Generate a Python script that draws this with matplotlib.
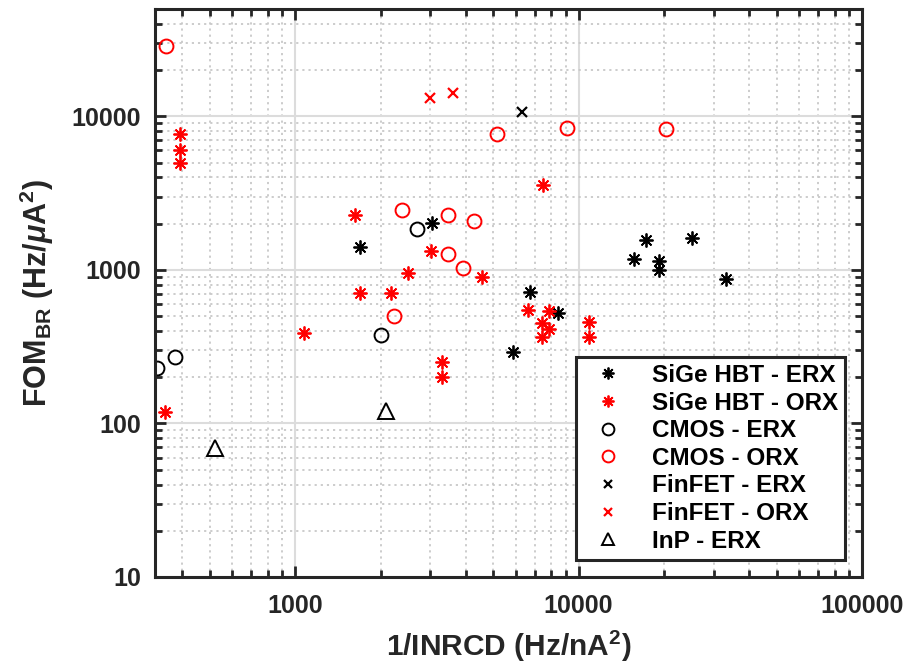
import numpy as np
import matplotlib
matplotlib.use("Agg")
import matplotlib.pyplot as plt

plt.rcParams['font.family'] = ['Liberation Sans', 'DejaVu Sans']
plt.rcParams['font.weight'] = 'bold'
plt.rcParams['mathtext.fontset'] = 'custom'
plt.rcParams['mathtext.rm'] = 'Liberation Sans:bold'
plt.rcParams['mathtext.bf'] = 'Liberation Sans:bold'
plt.rcParams['mathtext.it'] = 'Liberation Sans:italic'

# data
sige_erx_x = [1693, 3034, 6714, 8440, 5860, 17340, 25180, 15630, 19280, 19280, 33200]
sige_erx_y = [1413, 2027, 718, 524, 291, 1570, 1618, 1181, 1145, 1000, 873]

sige_orx_x = [391, 391, 391, 346, 1626, 1693, 2179, 1076, 7460, 3014, 2500, 4550,
              6610, 7830, 7410, 7830, 7410, 10840, 10840, 3296, 3296]
sige_orx_y = [7620, 6080, 4930, 118, 2287, 708, 708, 387, 3594, 1331, 954, 900,
              548, 540, 451, 411, 365, 457, 365, 251, 200]

cmos_erx_x = [375, 326, 2010, 2690]
cmos_erx_y = [270, 229, 376, 1853]

cmos_orx_x = [351, 2233, 5140, 9080, 20400, 2382, 3459, 4267, 3459, 3909]
cmos_orx_y = [28700, 500, 7620, 8350, 8220, 2466, 2287, 2090, 1273, 1030]

finfet_erx_x = [6300]
finfet_erx_y = [10620]

finfet_orx_x = [2985, 3594]
finfet_orx_y = [13100, 14130]

inp_erx_x = [519, 2090]
inp_erx_y = [68.7, 120]

xticks = [1000, 10000, 100000]
yticks = [10, 100, 1000, 10000]

fig = plt.figure(figsize=(9.09, 6.68), dpi=100)
ax = fig.add_axes([155/909, 1-577/668, 707/909, 568/668])

ast = (8, 2, 0)
ms = 10
mew = 1.3
ax.plot(sige_erx_x, sige_erx_y, ls='none', marker=ast, ms=ms, mew=mew, color='k', label='SiGe HBT - ERX')
ax.plot(sige_orx_x, sige_orx_y, ls='none', marker=ast, ms=ms, mew=mew, color='r', label='SiGe HBT - ORX')
ax.plot(cmos_erx_x, cmos_erx_y, ls='none', marker='o', ms=ms, mew=1.4, mfc='none', color='k', label='CMOS - ERX')
ax.plot(cmos_orx_x, cmos_orx_y, ls='none', marker='o', ms=ms, mew=1.4, mfc='none', color='r', label='CMOS - ORX')
ax.plot(finfet_erx_x, finfet_erx_y, ls='none', marker='x', ms=7, mew=1.6, color='k', label='FinFET - ERX')
ax.plot(finfet_orx_x, finfet_orx_y, ls='none', marker='x', ms=7, mew=1.6, color='r', label='FinFET - ORX')
ax.plot(inp_erx_x, inp_erx_y, ls='none', marker='^', ms=11, mew=1.4, mfc='none', color='k', label='InP - ERX')

ax.set_xscale('log')
ax.set_yscale('log')
ax.set_xlim(320, 100000)
ax.set_ylim(10, 50000)
ax.set_xticks(xticks)
ax.set_xticklabels([str(t) for t in xticks])
ax.set_yticks(yticks)
ax.set_yticklabels([str(t) for t in yticks])

ax.grid(True, which='major', color='#dcdcdc', lw=1.5, ls='-')
ax.grid(True, which='minor', color='#c8c8c8', lw=1.3, ls=(0, (1.2, 2.2)))
ax.set_axisbelow(True)

axc = '#262626'
for s in ax.spines.values():
    s.set_linewidth(2.2)
    s.set_color(axc)
ax.tick_params(which='both', direction='in', top=True, right=True, colors=axc,
               labelsize=18, labelcolor=axc, width=2)
ax.tick_params(which='major', length=8)
ax.tick_params(axis='x', which='major', pad=12)
ax.tick_params(axis='y', which='major', pad=10)
ax.tick_params(which='minor', length=5)

ax.set_xlabel('1/INRCD (Hz/nA$^{2}$)', fontsize=21.5, fontweight='bold', color=axc, labelpad=8)
ax.set_ylabel('FOM$_{\\mathbf{BR}}$ (Hz/$\\mu$A$^{2}$)', fontsize=22, fontweight='bold', color=axc, labelpad=11)

leg = ax.legend(loc='lower right', bbox_to_anchor=(0.976, 0.03), fontsize=17.5,
                frameon=True, fancybox=False, framealpha=1, edgecolor=axc,
                handlelength=2.0, handletextpad=0.8, borderpad=0.3, labelspacing=0.19,
                borderaxespad=0, markerscale=0.85)
leg.get_frame().set_linewidth(2.2)
for t in leg.get_texts():
    t.set_color('k')

fig.savefig('out.png', dpi=100)
